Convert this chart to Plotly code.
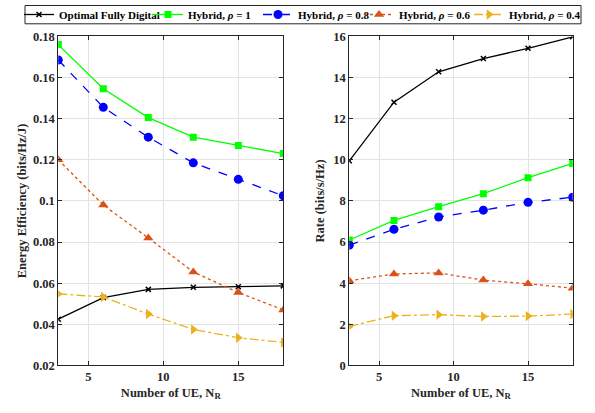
import plotly.graph_objects as go
from plotly.subplots import make_subplots

nr = [3, 6, 9, 12, 15, 18]

ee_digital = [0.0425, 0.053, 0.057, 0.058, 0.0583, 0.0587]
ee_rho1 = [0.176, 0.1545, 0.1405, 0.131, 0.127, 0.123]
ee_rho08 = [0.1685, 0.1455, 0.131, 0.1185, 0.1105, 0.1025]
ee_rho06 = [0.120, 0.098, 0.082, 0.0655, 0.0555, 0.047]
ee_rho04 = [0.0548, 0.0533, 0.045, 0.0375, 0.0335, 0.0312]

rate_digital = [9.95, 12.8, 14.28, 14.92, 15.42, 15.98]
rate_rho1 = [6.1, 7.05, 7.72, 8.35, 9.13, 9.82]
rate_rho08 = [5.85, 6.62, 7.22, 7.55, 7.93, 8.18]
rate_rho06 = [4.12, 4.45, 4.5, 4.15, 3.97, 3.76]
rate_rho04 = [1.9, 2.42, 2.47, 2.38, 2.4, 2.5]

names = ["Optimal Fully Digital", "Hybrid, <i>ρ</i> = 1", "Hybrid, <i>ρ</i> = 0.8",
         "Hybrid, <i>ρ</i> = 0.6", "Hybrid, <i>ρ</i> = 0.4"]
colors = ["#000000", "#00FF00", "#0000FF", "#D95319", "#EDB120"]
dashes = ["solid", "solid", "dash", "dot", "dashdot"]
symbols = ["x-thin", "square", "circle", "triangle-up", "triangle-right"]
sizes = [5, 7, 9, 9, 9]

# legend text start positions (px) for each entry
legend_text_x = [59, 188, 298, 399, 509]

FONT = "Liberation Serif"
W, H = 595, 413

fig = make_subplots(rows=1, cols=2)

ee_series = [ee_digital, ee_rho1, ee_rho08, ee_rho06, ee_rho04]
rate_series = [rate_digital, rate_rho1, rate_rho08, rate_rho06, rate_rho04]

for i in range(5):
    mk = dict(symbol=symbols[i], size=sizes[i], color=colors[i])
    if symbols[i] == "x-thin":
        mk["line"] = dict(width=1.5, color=colors[i])
    leg = "legend" if i == 0 else f"legend{i + 1}"
    fig.add_trace(go.Scatter(x=nr, y=ee_series[i], name=names[i], mode="lines+markers",
                             line=dict(color=colors[i], dash=dashes[i], width=1.3),
                             marker=mk, legendgroup=str(i), legend=leg), row=1, col=1)
    fig.add_trace(go.Scatter(x=nr, y=rate_series[i], name=names[i], mode="lines+markers",
                             line=dict(color=colors[i], dash=dashes[i], width=1.3),
                             marker=mk, legendgroup=str(i), showlegend=False), row=1, col=2)

tick_font = dict(family=FONT, size=12.5, color="#262626", weight="bold")
title_font = dict(family=FONT, size=12.5, color="#262626", weight="bold")

axis_common = dict(showline=True, linecolor="#262626", linewidth=1, mirror="ticks",
                   ticks="inside", ticklen=4, tickcolor="#262626",
                   showgrid=True, gridcolor="#E3E3E3", gridwidth=1, zeroline=False,
                   tickfont=tick_font, automargin=False)

fig.update_xaxes(**axis_common, range=[3, 18], tickvals=[5, 10, 15],
                 title=dict(text="Number of UE, N<sub>R</sub>", standoff=4, font=title_font))
fig.update_xaxes(domain=[58.3 / W, 283.3 / W], row=1, col=1)
fig.update_xaxes(domain=[349.3 / W, 572.7 / W], row=1, col=2)

fig.update_yaxes(**axis_common)
fig.update_yaxes(row=1, col=1, range=[0.02, 0.18],
                 tickvals=[0.02, 0.04, 0.06, 0.08, 0.1, 0.12, 0.14, 0.16, 0.18],
                 ticktext=["0.02", "0.04", "0.06", "0.08", "0.1", "0.12", "0.14", "0.16", "0.18"],
                 title=dict(text="Energy Efficiency (bits/Hz/J)", standoff=3, font=title_font))
fig.update_yaxes(row=1, col=2, range=[0, 16], dtick=2,
                 title=dict(text="Rate (bits/s/Hz)", standoff=5, font=title_font))
fig.update_yaxes(domain=[1 - 365 / H, 1 - 32.7 / H])

legend_font = dict(family=FONT, size=11, color="#000000", weight="bold")
legends = {}
for i, tx in enumerate(legend_text_x):
    key = "legend" if i == 0 else f"legend{i + 1}"
    legends[key] = dict(orientation="h", x=(tx - 40) / W, xanchor="left",
                        y=1 - 10.5 / H, yanchor="middle",
                        borderwidth=0, bgcolor="rgba(0,0,0,0)",
                        font=legend_font, itemwidth=30, tracegroupgap=0)

fig.update_layout(
    width=W, height=H,
    margin=dict(l=0, r=0, t=0, b=0),
    paper_bgcolor="white", plot_bgcolor="white",
    font=dict(family=FONT, color="#262626"),
    showlegend=True,
    **legends,
)

fig.add_shape(type="rect", xref="paper", yref="paper",
              x0=25 / W, x1=581 / W, y0=1 - 20 / H, y1=1 - 1.5 / H,
              line=dict(color="#262626", width=1), fillcolor="rgba(0,0,0,0)", layer="above")

fig.write_html("out.html")
